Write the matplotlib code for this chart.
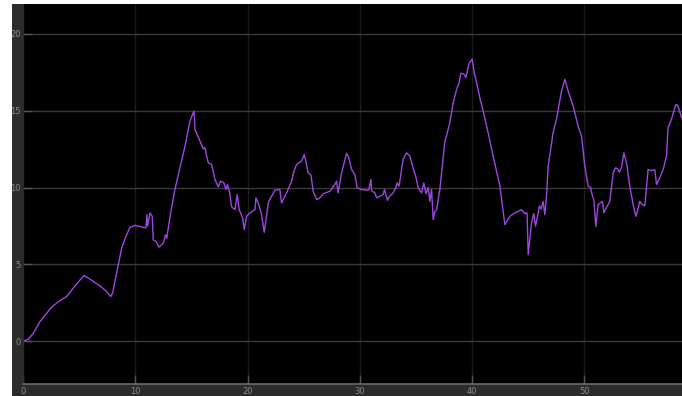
import numpy as np
import matplotlib
matplotlib.use("Agg")
import matplotlib.pyplot as plt
from matplotlib.patches import Rectangle

# signal (time [s], value)
t = [0, 0.47, 0.92, 1.51, 2.55, 3.29, 3.89, 4.63, 5.43, 5.97, 6.86, 7.45, 7.81, 7.98,
     8.49, 8.79, 9.17, 9.53, 9.97, 10.95, 11.04, 11.1, 11.31, 11.51, 11.6, 11.84, 12.11,
     12.5, 12.7, 12.8, 13.15, 13.53, 13.74, 14.43, 14.87, 15.23, 15.32, 15.76, 16.06,
     16.2, 16.5, 16.8, 17.1, 17.39, 17.6, 17.9, 18.08, 18.2, 18.4, 18.58, 18.88, 19.08,
     19.26, 19.56, 19.71, 19.92, 20.21, 20.66, 20.75, 21.0, 21.25, 21.49, 21.85, 22.05,
     22.23, 22.44, 22.88, 23.03, 23.48, 23.93, 24.13, 24.37, 24.82, 25.05, 25.2, 25.4,
     25.65, 25.85, 26.15, 26.4, 26.74, 27.34, 27.78, 27.93, 28.07, 28.38, 28.82, 29.0,
     29.27, 29.56, 29.77, 30.16, 30.6, 30.8, 30.99, 31.05, 31.34, 31.5, 31.79, 32.08,
     32.2, 32.47, 32.65, 32.97, 33.21, 33.33, 33.5, 33.86, 34.17, 34.46, 34.7, 34.85,
     34.95, 35.2, 35.5, 35.7, 35.9, 36.1, 36.24, 36.39, 36.54, 36.69, 36.84, 37.13,
     37.58, 37.73, 38.02, 38.32, 38.62, 38.85, 39.0, 39.3, 39.45, 39.74, 40.01, 40.19,
     40.4, 40.69, 40.99, 41.43, 41.88, 42.48, 42.92, 43.37, 43.81, 44.41, 44.7, 44.9,
     45.0, 45.3, 45.5, 45.65, 45.89, 46.0, 46.15, 46.33, 46.48, 46.63, 46.78, 47.22,
     47.52, 47.97, 48.26, 48.56, 49.0, 49.45, 49.75, 50.04, 50.34, 50.55, 50.73, 50.85,
     51.02, 51.23, 51.62, 51.74, 51.9, 52.27, 52.57, 52.78, 53.0, 53.1, 53.31, 53.52,
     53.76, 54.05, 54.35, 54.59, 54.7, 54.94, 55.15, 55.39, 55.68, 55.95, 56.28, 56.43,
     56.72, 57.02, 57.32, 57.46, 57.76, 58.15, 58.35, 58.66]
y = [0, 0.13, 0.52, 1.28, 2.22, 2.65, 2.91, 3.6, 4.28, 4.04, 3.6, 3.24, 2.91, 3.13,
     4.98, 6.07, 6.82, 7.41, 7.54, 7.37, 8.24, 7.5, 8.35, 8.13, 6.6, 6.5, 6.13,
     6.39, 6.93, 6.7, 8.35, 9.87, 10.52, 12.69, 14.33, 14.98, 13.78, 13.02, 12.52,
     12.6, 11.61, 11.5, 10.52, 10.04, 10.41, 10.3, 9.87, 10.2, 9.7, 8.74, 8.56, 9.54,
     8.56, 8.02, 7.26, 8.13, 8.35, 8.56, 9.33, 8.9, 8.24, 7.09, 9.0, 9.33,
     9.54, 9.83, 9.87, 9.0, 9.65, 10.41, 11.06, 11.5, 11.72, 12.15, 11.7, 10.96,
     10.8, 9.76, 9.22, 9.3, 9.6, 9.76, 10.2, 10.41, 9.65, 10.96, 12.22, 12.0,
     11.17, 10.85, 9.98, 9.87, 9.83, 9.85, 10.52, 9.8, 9.65, 9.33, 9.43, 9.54,
     9.87, 9.17, 9.43, 9.65, 9.98, 10.3, 10.1, 11.83, 12.26, 12.04, 11.39, 11.0,
     10.85, 9.98, 9.65, 10.3, 9.6, 10.0, 9.1, 9.87, 7.91, 8.45, 8.56, 9.87,
     13.02, 13.39, 14.22, 15.52, 16.39, 16.83, 17.44, 17.37, 17.15, 18.09, 18.35, 17.48,
     16.83, 15.85, 14.98, 13.57, 12.04, 10.09, 7.59, 8.13, 8.35, 8.56, 8.3, 8.35,
     5.63, 7.7, 8.3, 7.48, 8.35, 8.8, 8.6, 9.1, 8.24, 9.43, 11.39, 13.57,
     14.44, 16.28, 17.04, 16.28, 15.3, 14.0, 13.35, 11.39, 10.09, 10.0, 9.43, 9.2,
     7.48, 8.89, 9.1, 8.35, 8.6, 9.1, 10.96, 11.28, 11.2, 11.0, 11.28, 12.26,
     11.61, 10.09, 8.89, 8.13, 8.4, 9.1, 8.89, 8.82, 11.17, 11.1, 11.17, 10.2,
     10.63, 11.17, 12.04, 13.89, 14.44, 15.41, 15.3, 14.55]

xticks = [0, 10, 20, 30, 40, 50]
yticks = [0, 5, 10, 15, 20]

W, H = 682, 396
fig = plt.figure(figsize=(W / 100, H / 100), dpi=100, facecolor="white")
# dark scope panel behind the axes
fig.patches.append(Rectangle((12 / W, 0), 1, 1 - 4 / H, transform=fig.transFigure,
                             facecolor="#2b2b2b", edgecolor="none", zorder=-1))

ax = fig.add_axes([23 / W, 12 / H, (W - 23) / W, (384 - 4) / H])
ax.set_facecolor("black")
ax.plot(t, y, color="#9d47e0", lw=1.0)

ax.set_xlim(0, 58.7)
ax.set_ylim(-2.78, 21.94)
ax.set_xticks(xticks)
ax.set_yticks(yticks)

ax.grid(axis="y", color="#3a3a3a", lw=1)
ax.grid(axis="x", color="#1c1c1c", lw=1)
ax.tick_params(direction="in", length=6.5, width=1, color="#555555",
               labelcolor="#8c8c8c", labelsize=6, pad=1.5)
ax.tick_params(axis="x", pad=2)

for s in ["top", "right"]:
    ax.spines[s].set_visible(False)
ax.spines["left"].set_color("#2b2b2b")
ax.spines["bottom"].set_color("#6a6a6a")
ax.spines["bottom"].set_linewidth(1.2)

fig.savefig("out.png", dpi=100, facecolor=fig.get_facecolor())
